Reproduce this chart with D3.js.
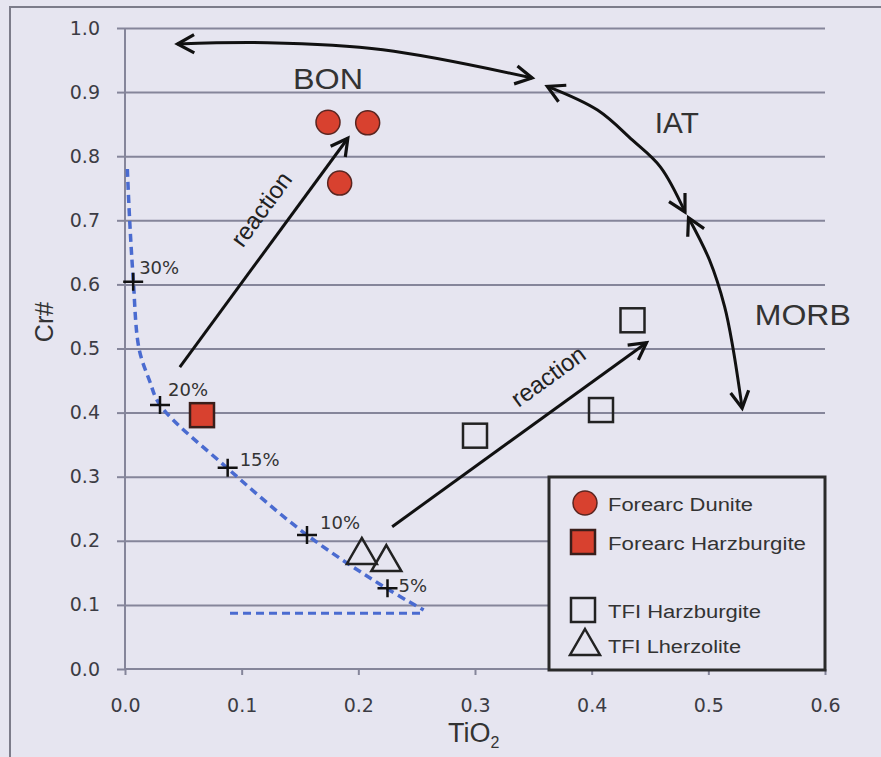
<!DOCTYPE html>
<html lang="en">
<head>
  <meta charset="UTF-8">
  <script src="https://d3js.org/d3.v7.min.js"></script>
  <style>
    body { margin: 0; background: #e6e5f0; }
    svg { display: block; }
  </style>
</head>
<body>
<script>
  // Cr# vs TiO2 of spinel
  const forearcDunite = [[0.174, 0.853], [0.208, 0.852], [0.184, 0.758]];
  const forearcHarzburgite = [[0.066, 0.396]];
  const tfiHarzburgite = [[0.300, 0.364], [0.408, 0.404], [0.435, 0.544]];
  const tfiLherzolite = [[0.203, 0.181], [0.224, 0.170]];

  // melting curve and % melt ticks
  const meltCurve = [[0.002, 0.78], [0.004, 0.70], [0.007, 0.61], [0.012, 0.50], [0.021, 0.45],
    [0.030, 0.412], [0.088, 0.313], [0.156, 0.209], [0.224, 0.126], [0.256, 0.092]];
  const meltBase = [[0.09, 0.087], [0.256, 0.087]];
  const meltLabels = ["30%", "20%", "15%", "10%", "5%"];
  const meltPoints = [[0.007, 0.604], [0.030, 0.412], [0.088, 0.314], [0.156, 0.209], [0.225, 0.126]];
  const meltOffsets = [[6, -14], [8, -15], [12, -8], [13, -12], [11, -3]];

  // annotation arrows
  const bonArrow = [[0.045, 0.975], [0.122, 0.977], [0.221, 0.966], [0.349, 0.922]];
  const iatArrow = [[0.362, 0.909], [0.405, 0.872], [0.435, 0.825], [0.459, 0.783], [0.480, 0.713]];
  const morbArrow = [[0.483, 0.704], [0.501, 0.638], [0.514, 0.565], [0.521, 0.502], [0.529, 0.407]];
  const reactionUpper = [[0.047, 0.471], [0.191, 0.828]];
  const reactionLower = [[0.229, 0.222], [0.447, 0.509]];
  const fieldLabels = [["BON", 0.174, 0.92], ["IAT", 0.473, 0.852], ["MORB", 0.581, 0.553]];

  const xTicks = [0, 0.1, 0.2, 0.3, 0.4, 0.5, 0.6];
  const yTicks = [0, 0.1, 0.2, 0.3, 0.4, 0.5, 0.6, 0.7, 0.8, 0.9, 1.0];
  const legendLabels = ["Forearc Dunite", "Forearc Harzburgite", "TFI Harzburgite", "TFI Lherzolite"];

  const width = 881, height = 757;
  const bg = "#e6e5f0";
  const red = "#d8412f";
  const gridColor = "#85859a";
  const tickFont = "'DejaVu Sans', Verdana, sans-serif";
  const labelFont = "'Liberation Sans', Arial, sans-serif";

  const svg = d3.select("body").append("svg")
    .attr("width", width)
    .attr("height", height);

  svg.append("rect").attr("width", width).attr("height", height).attr("fill", bg);
  // outer frame
  svg.append("rect")
    .attr("x", 10).attr("y", 7).attr("width", width).attr("height", height)
    .attr("fill", "none").attr("stroke", "#7c7c8a").attr("stroke-width", 2);

  const x = d3.scaleLinear().domain([0, 0.6]).range([125, 825]);
  const y = d3.scaleLinear().domain([0, 1]).range([669, 28]);

  // gridlines
  svg.append("g")
    .attr("transform", "translate(125,0)")
    .call(d3.axisLeft(y).tickValues(yTicks.slice(1)).tickSize(-700).tickFormat(""))
    .call(g => g.select(".domain").remove())
    .call(g => g.selectAll("line").attr("stroke", gridColor).attr("stroke-width", 2));

  // y axis
  svg.append("g")
    .attr("transform", "translate(125,0)")
    .call(d3.axisLeft(y).tickValues(yTicks).tickSize(8).tickPadding(17).tickFormat(d3.format(".1f")))
    .call(g => g.select(".domain").attr("stroke", gridColor).attr("stroke-width", 2).attr("d", "M0,669V28"))
    .call(g => g.selectAll("line").attr("stroke", gridColor).attr("stroke-width", 2))
    .call(g => g.selectAll("text").attr("fill", "#3c3c44").style("font", `19px ${tickFont}`));

  // x axis
  svg.append("g")
    .attr("transform", "translate(0,669)")
    .call(d3.axisBottom(x).tickValues(xTicks).tickSize(6).tickPadding(24).tickFormat(d3.format(".1f")))
    .call(g => g.select(".domain").attr("stroke", gridColor).attr("stroke-width", 2).attr("d", "M125,0H825"))
    .call(g => g.selectAll("line").attr("stroke", gridColor).attr("stroke-width", 2))
    .call(g => g.selectAll("text").attr("fill", "#3c3c44").style("font", `19px ${tickFont}`));

  // axis titles
  svg.append("text")
    .attr("transform", "translate(53,322) rotate(-90)")
    .attr("text-anchor", "middle")
    .attr("fill", "#333")
    .style("font", `25px ${labelFont}`)
    .text("Cr#");
  const tio = svg.append("text")
    .attr("x", 448).attr("y", 742)
    .attr("fill", "#333")
    .style("font", `27px ${labelFont}`);
  tio.append("tspan").text("TiO");
  tio.append("tspan").attr("dy", 6).style("font-size", "16px").text("2");

  // melting curve
  const line = d3.line().x(d => x(d[0])).y(d => y(d[1]));
  svg.append("path").datum(meltCurve)
    .attr("d", line.curve(d3.curveCatmullRom))
    .attr("fill", "none").attr("stroke", "#4a6bd0").attr("stroke-width", 3.5)
    .attr("stroke-dasharray", "8,5");
  svg.append("path").datum(meltBase)
    .attr("d", d3.line().x(d => x(d[0])).y(d => y(d[1])))
    .attr("fill", "none").attr("stroke", "#4a6bd0").attr("stroke-width", 3)
    .attr("stroke-dasharray", "8,5");

  const melt = svg.append("g");
  meltPoints.forEach((p, i) => {
    const cx = x(p[0]), cy = y(p[1]);
    melt.append("path")
      .attr("d", `M${cx - 10},${cy}H${cx + 10}M${cx},${cy - 9}V${cy + 9}`)
      .attr("stroke", "#111").attr("stroke-width", 2.5);
    melt.append("text")
      .attr("x", cx + meltOffsets[i][0]).attr("y", cy + meltOffsets[i][1])
      .attr("dy", "0.35em")
      .attr("fill", "#333")
      .style("font", `18px ${tickFont}`)
      .text(meltLabels[i]);
  });

  // arrows
  const arrows = svg.append("g");
  function head(p0, p1) {
    // open V head at p1 pointing from p0
    const a = Math.atan2(p1[1] - p0[1], p1[0] - p0[0]);
    const len = 19, spread = 0.5;
    const l = [p1[0] - len * Math.cos(a - spread), p1[1] - len * Math.sin(a - spread)];
    const r = [p1[0] - len * Math.cos(a + spread), p1[1] - len * Math.sin(a + spread)];
    arrows.append("path")
      .attr("d", `M${l[0]},${l[1]}L${p1[0]},${p1[1]}L${r[0]},${r[1]}`)
      .attr("fill", "none").attr("stroke", "#111").attr("stroke-width", 3.2)
      .attr("stroke-linejoin", "miter");
  }
  function arrow(pts, both) {
    const px = pts.map(d => [x(d[0]), y(d[1])]);
    arrows.append("path").datum(px)
      .attr("d", d3.line().curve(d3.curveCatmullRom))
      .attr("fill", "none").attr("stroke", "#111").attr("stroke-width", 3);
    const n = px.length;
    head(px[n - 2], px[n - 1]);
    if (both) head(px[1], px[0]);
  }
  arrow(bonArrow, true);
  arrow(iatArrow, true);
  arrow(morbArrow, true);
  arrow(reactionUpper, false);
  arrow(reactionLower, false);

  function alongLabel(pts, cx, cy) {
    const a = Math.atan2(y(pts[1][1]) - y(pts[0][1]), x(pts[1][0]) - x(pts[0][0])) * 180 / Math.PI;
    svg.append("text")
      .attr("transform", `translate(${cx},${cy}) rotate(${a})`)
      .attr("text-anchor", "middle")
      .attr("fill", "#222")
      .style("font", `24px ${labelFont}`)
      .text("reaction");
  }
  alongLabel(reactionUpper, 268, 214);
  alongLabel(reactionLower, 553, 383);

  fieldLabels.forEach(d => {
    svg.append("text")
      .attr("x", x(d[1])).attr("y", y(d[2]))
      .attr("text-anchor", "middle")
      .attr("dy", "0.35em")
      .attr("fill", "#333")
      .style("font", `29px ${labelFont}`)
      .attr("textLength", d[0] === "MORB" ? 96 : d[0] === "BON" ? 70 : 44)
      .attr("lengthAdjust", "spacingAndGlyphs")
      .text(d[0]);
  });

  // data points
  const sym = svg.append("g");
  sym.selectAll(".fd").data(forearcDunite).join("circle")
    .attr("cx", d => x(d[0])).attr("cy", d => y(d[1])).attr("r", 12)
    .attr("fill", red).attr("stroke", "#5a2520").attr("stroke-width", 1.5);
  sym.selectAll(".fh").data(forearcHarzburgite).join("rect")
    .attr("x", d => x(d[0]) - 12).attr("y", d => y(d[1]) - 12)
    .attr("width", 24).attr("height", 24)
    .attr("fill", red).attr("stroke", "#3a1e1a").attr("stroke-width", 2.5);
  sym.selectAll(".th").data(tfiHarzburgite).join("rect")
    .attr("x", d => x(d[0]) - 12).attr("y", d => y(d[1]) - 12)
    .attr("width", 24).attr("height", 24)
    .attr("fill", "none").attr("stroke", "#222").attr("stroke-width", 2.5);
  const tri = (cx, cy) => `M${cx},${cy - 15}L${cx + 15},${cy + 11}L${cx - 15},${cy + 11}Z`;
  sym.selectAll(".tl").data(tfiLherzolite).join("path")
    .attr("d", d => tri(x(d[0]), y(d[1])))
    .attr("fill", "none").attr("stroke", "#222").attr("stroke-width", 2.5);

  // legend
  const lg = svg.append("g");
  lg.append("rect")
    .attr("x", 549).attr("y", 477).attr("width", 276).attr("height", 193)
    .attr("fill", bg).attr("stroke", "#2a2a2a").attr("stroke-width", 3);
  const rows = [503, 542, 610, 645];
  const lens = [145, 198, 153, 133];
  lg.append("circle").attr("cx", 585).attr("cy", rows[0]).attr("r", 12)
    .attr("fill", red).attr("stroke", "#5a2520").attr("stroke-width", 1.5);
  lg.append("rect").attr("x", 571).attr("y", rows[1] - 12).attr("width", 24).attr("height", 24)
    .attr("fill", red).attr("stroke", "#3a1e1a").attr("stroke-width", 2.5);
  lg.append("rect").attr("x", 571).attr("y", rows[2] - 12).attr("width", 24).attr("height", 24)
    .attr("fill", "none").attr("stroke", "#222").attr("stroke-width", 2.5);
  lg.append("path").attr("d", tri(585, rows[3] - 1))
    .attr("fill", "none").attr("stroke", "#222").attr("stroke-width", 2.5);
  legendLabels.forEach((t, i) => {
    lg.append("text")
      .attr("x", 608).attr("y", rows[i] + 2)
      .attr("dy", "0.35em")
      .attr("fill", "#333")
      .style("font", `18px ${labelFont}`)
      .attr("textLength", lens[i])
      .attr("lengthAdjust", "spacingAndGlyphs")
      .text(t);
  });
</script>
</body>
</html>
